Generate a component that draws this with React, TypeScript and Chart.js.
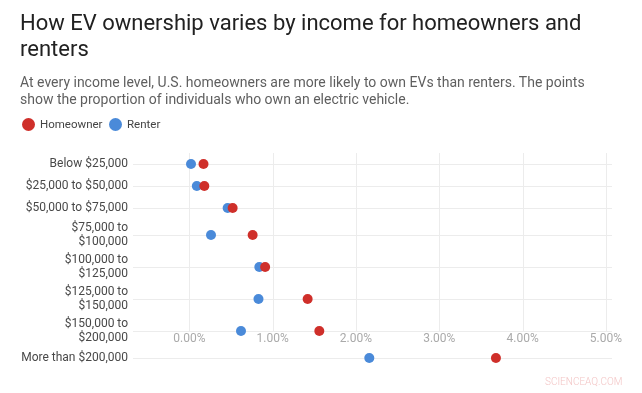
import React, { useEffect, useRef } from 'react';
import { Chart, CategoryScale, registerables } from 'chart.js';

Chart.register(...registerables);

const TITLE = 'How EV ownership varies by income for homeowners and renters';
const SUBTITLE =
  'At every income level, U.S. homeowners are more likely to own EVs than renters. The points show the proportion of individuals who own an electric vehicle.';
const WATERMARK = 'SCIENCEAQ.COM';

const CATEGORIES: (string | string[])[] = [
  'Below $25,000',
  '$25,000 to $50,000',
  '$50,000 to $75,000',
  ['$75,000 to', '$100,000'],
  ['$100,000 to', '$125,000'],
  ['$125,000 to', '$150,000'],
  ['$150,000 to', '$200,000'],
  'More than $200,000',
];
const SERIES_NAMES = ['Homeowner', 'Renter'];
const HOMEOWNER = [0.17, 0.18, 0.52, 0.76, 0.91, 1.42, 1.56, 3.68];
const RENTER = [0.02, 0.09, 0.46, 0.26, 0.84, 0.83, 0.62, 2.16];
const X_TICKS = [0, 1, 2, 3, 4, 5];
const X_MIN = -0.676;
const X_MAX = 5.073;
const AXIS_ROW = 6;

const COLORS = ['#cf2f2a', '#4a8ad9'];
const GRID = '#ececec';
const FONT = 'Roboto, "Noto Sans", sans-serif';

// Category scale whose bands are sized by the number of lines in each label.
class BandCategoryScale extends CategoryScale {
  static id = 'bandCategory';
  static defaults = CategoryScale.defaults;

  _centers(): number[] {
    const labels = (this as any).getLabels() as (string | string[])[];
    const weights = labels.map((l) => 12 + 10 * (Array.isArray(l) ? l.length : 1));
    const total = weights.reduce((a, b) => a + b, 0);
    const k = ((this as any).bottom - (this as any).top) / total;
    let acc = (this as any).top;
    return weights.map((w) => {
      const c = acc + (w * k) / 2;
      acc += w * k;
      return c;
    });
  }

  getPixelForValue(value: any): number {
    if (typeof value !== 'number') value = (this as any).parse(value);
    if (value === null || value === undefined || isNaN(value)) return NaN;
    const c = this._centers();
    const n = c.length;
    const pts: number[][] = [[-0.5, (this as any).top]];
    c.forEach((y, i) => pts.push([i, y]));
    pts.push([n - 0.5, (this as any).bottom]);
    for (let j = 0; j < pts.length - 1; j++) {
      const [v0, p0] = pts[j];
      const [v1, p1] = pts[j + 1];
      if (value <= v1 || j === pts.length - 2) {
        return p0 + ((value - v0) / (v1 - v0)) * (p1 - p0);
      }
    }
    return NaN;
  }
}
Chart.register(BandCategoryScale as any);

const verticalGrid = {
  id: 'verticalGrid',
  beforeDatasetsDraw(chart: any) {
    const { ctx, chartArea } = chart;
    const x = chart.scales.x;
    const y = chart.scales.y;
    const yEnd = y.getPixelForValue(AXIS_ROW);
    ctx.save();
    ctx.strokeStyle = GRID;
    ctx.lineWidth = 1;
    x.ticks.forEach((t: any) => {
      const px = Math.round(x.getPixelForValue(t.value)) + 0.5;
      ctx.beginPath();
      ctx.moveTo(px, chartArea.top);
      ctx.lineTo(px, yEnd);
      ctx.stroke();
    });
    ctx.restore();
  },
};

export default function App() {
  const ref = useRef<HTMLCanvasElement>(null);

  useEffect(() => {
    Chart.defaults.font.family = FONT;
    const series = [HOMEOWNER, RENTER];
    const chart = new Chart(ref.current as HTMLCanvasElement, {
      type: 'scatter',
      data: {
        labels: CATEGORIES as any,
        datasets: series.map((vals, s) => ({
          label: SERIES_NAMES[s],
          data: vals.map((v, i) => ({ x: v, y: i })),
          backgroundColor: COLORS[s],
          borderColor: COLORS[s],
          borderWidth: 0,
          pointRadius: 5,
          pointHoverRadius: 5,
        })),
      },
      options: {
        animation: false,
        responsive: true,
        maintainAspectRatio: false,
        events: [],
        layout: { padding: { left: 20, right: 30, top: 153, bottom: 24 } },
        plugins: {
          legend: { display: false },
          tooltip: { enabled: false },
          title: { display: false },
        },
        scales: {
          y: {
            type: 'bandCategory' as any,
            position: 'left',
            afterFit: (s: any) => {
              s.width = 113;
            },
            grid: { color: GRID, drawTicks: false },
            border: { display: false },
            ticks: {
              autoSkip: false,
              color: '#484848',
              font: { size: 12 },
              padding: 5,
            },
          },
          x: {
            type: 'linear',
            position: { y: AXIS_ROW } as any,
            min: X_MIN,
            max: X_MAX,
            afterBuildTicks: (s: any) => {
              s.ticks = X_TICKS.map((v) => ({ value: v }));
            },
            grid: { display: false, drawTicks: false },
            border: { display: false },
            ticks: {
              color: '#aaaaaa',
              font: { size: 12 },
              padding: 1,
              callback: (v: any) => Number(v).toFixed(2) + '%',
            },
          },
        },
      } as any,
      plugins: [verticalGrid],
    });
    return () => chart.destroy();
  }, []);

  return (
    <div
      style={{
        position: 'fixed',
        left: 0,
        top: 0,
        width: 642,
        height: 393,
        fontFamily: FONT,
        background: '#fff',
      }}
    >
      <canvas ref={ref} />
      <div style={{ position: 'absolute', left: 20, top: 10, width: 590, pointerEvents: 'none' }}>
        <div style={{ fontSize: 22, lineHeight: '26px', color: '#212121' }}>{TITLE}</div>
        <div style={{ fontSize: 14, lineHeight: '17px', color: '#5f5f5f', marginTop: 12 }}>{SUBTITLE}</div>
        <div style={{ display: 'flex', alignItems: 'center', height: 14, marginTop: 9 }}>
          {SERIES_NAMES.map((name, i) => (
            <div key={name} style={{ display: 'flex', alignItems: 'center', marginLeft: i === 0 ? 1.5 : 6 }}>
              <span
                style={{
                  display: 'inline-block',
                  width: 13,
                  height: 13,
                  borderRadius: '50%',
                  background: COLORS[i],
                }}
              />
              <span style={{ fontSize: 11.5, color: '#444', marginLeft: 5.5 }}>{name}</span>
            </div>
          ))}
        </div>
      </div>
      <div
        style={{
          position: 'absolute',
          left: 545,
          top: 375,
          fontSize: 10,
          lineHeight: '13px',
          color: '#f3c6c6',
          fontWeight: 300,
          pointerEvents: 'none',
        }}
      >
        {WATERMARK}
      </div>
    </div>
  );
}
